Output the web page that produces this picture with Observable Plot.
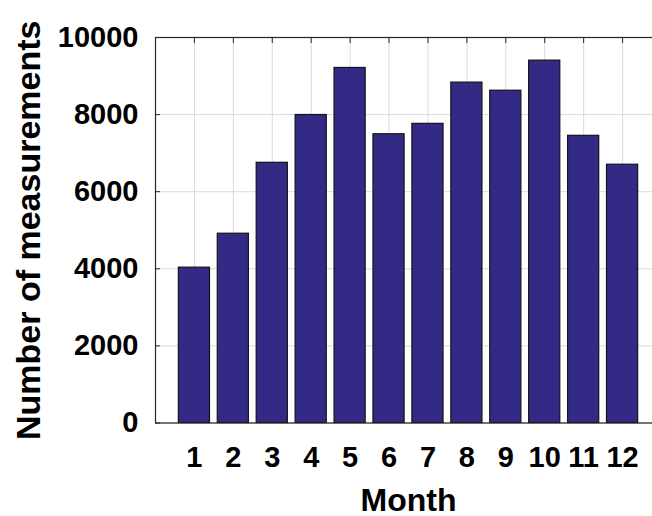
<!DOCTYPE html>
<html><head><meta charset="utf-8">
<script src="https://cdn.jsdelivr.net/npm/d3@7"></script>
<script src="https://cdn.jsdelivr.net/npm/@observablehq/plot@0.6"></script>
<style>html,body{margin:0;padding:0;background:#fff;overflow:hidden} svg{display:block}</style>
</head><body><div id="chart"></div>
<script>
const months = [1, 2, 3, 4, 5, 6, 7, 8, 9, 10, 11, 12];
const counts = [4030, 4910, 6750, 7990, 9210, 7490, 7760, 8830, 8620, 9400, 7450, 6700];
const yTicks = [0, 2000, 4000, 6000, 8000, 10000];
const xLabel = "Month";
const yLabel = "Number of measurements";

const data = months.map((m, i) => ({month: m, count: counts[i]}));
const font = "'Liberation Sans', Arial, Helvetica, sans-serif";
const plain = d => String(d);
const blank = () => "";

const chart = Plot.plot({
  width: 652,
  height: 516,
  marginLeft: 155,
  marginTop: 37,
  marginBottom: 93.5,
  marginRight: -9,
  style: {fontFamily: font, fontWeight: "bold", color: "#000", background: "#fff", overflow: "visible"},
  x: {domain: [0, 13]},
  y: {domain: [0, 10000]},
  marks: [
    Plot.gridX(months, {stroke: "#dadada", strokeOpacity: 1, strokeWidth: 1}),
    Plot.gridY(yTicks, {stroke: "#dadada", strokeOpacity: 1, strokeWidth: 1}),
    Plot.rectY(data, {x1: d => d.month - 0.4, x2: d => d.month + 0.4, y: "count", fill: "#332a86", stroke: "#141414", strokeWidth: 1.2}),
    Plot.frame({stroke: "#262626", strokeWidth: 1.2}),
    Plot.axisX(months, {anchor: "top", tickSize: -5, tickFormat: blank, label: null, stroke: "#262626"}),
    Plot.axisY(yTicks, {anchor: "left", tickSize: -5, tickFormat: blank, label: null, stroke: "#262626"}),
    Plot.axisX(months, {anchor: "bottom", tickSize: 0, tickPadding: 23, fontSize: 29, fontWeight: "bold",
      tickFormat: plain, label: null}),
    Plot.axisY(yTicks, {anchor: "left", tickSize: 0, tickPadding: 17, fontSize: 29, fontWeight: "bold",
      tickFormat: plain, label: null}),
    Plot.axisX(months, {anchor: "bottom", tickSize: 0, tickFormat: blank, fontSize: 32, fontWeight: "bold",
      label: xLabel, labelAnchor: "center", labelOffset: 88, labelArrow: false}),
    Plot.axisY(yTicks, {anchor: "left", tickSize: 0, tickFormat: blank, fontSize: 34, fontWeight: "bold",
      label: yLabel, labelAnchor: "center", labelOffset: 140, labelArrow: false})
  ]
});
document.getElementById("chart").appendChild(chart);
</script>
</body></html>
